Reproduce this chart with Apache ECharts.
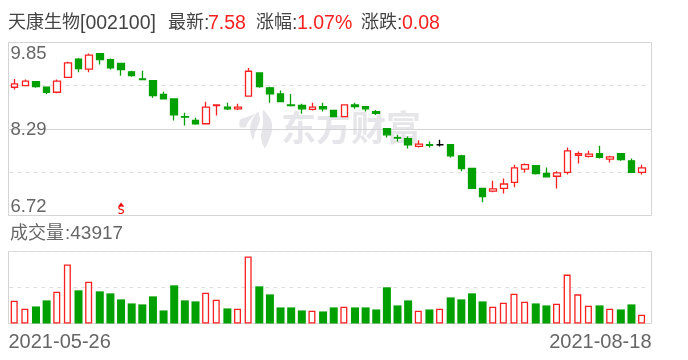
<!DOCTYPE html>
<html>
<head>
<meta charset="utf-8">
<style>html,body{margin:0;padding:0;background:#fff}#chart{width:688px;height:360px}</style>
<script src="https://cdn.jsdelivr.net/npm/echarts@6/dist/echarts.min.js"></script>
</head>
<body>
<div id="chart"></div>
<script>
var dates = [
  '2021-05-26','2021-05-27','2021-05-28','2021-05-31',
  '2021-06-01','2021-06-02','2021-06-03','2021-06-04','2021-06-07','2021-06-08','2021-06-09','2021-06-10','2021-06-11',
  '2021-06-15','2021-06-16','2021-06-17','2021-06-18','2021-06-21','2021-06-22','2021-06-23','2021-06-24','2021-06-25',
  '2021-06-28','2021-06-29','2021-06-30',
  '2021-07-01','2021-07-02','2021-07-05','2021-07-06','2021-07-07','2021-07-08','2021-07-09','2021-07-12','2021-07-13',
  '2021-07-14','2021-07-15','2021-07-16','2021-07-19','2021-07-20','2021-07-21','2021-07-22','2021-07-23','2021-07-26',
  '2021-07-27','2021-07-28','2021-07-29','2021-07-30',
  '2021-08-02','2021-08-03','2021-08-04','2021-08-05','2021-08-06','2021-08-09','2021-08-10','2021-08-11','2021-08-12',
  '2021-08-13','2021-08-16','2021-08-17','2021-08-18'
];
var opens = [9.04,9.07,9.14,9.04,8.95,9.22,9.55,9.37,9.65,9.54,9.47,9.32,9.19,9.16,8.91,8.83,8.51,8.44,8.38,8.71,
  8.68,8.65,8.88,9.30,9.03,8.92,8.72,8.71,8.64,8.69,8.62,8.51,8.72,8.69,8.60,8.29,8.13,8.11,7.97,8.00,
  8.00,8.00,7.80,7.57,7.21,7.16,7.21,7.32,7.56,7.62,7.48,7.43,7.50,7.81,7.79,7.84,7.74,7.84,7.71,7.50];
var closes = [9.10,9.15,9.05,8.95,9.15,9.48,9.38,9.62,9.54,9.39,9.36,9.25,9.18,8.89,8.83,8.54,8.50,8.38,8.68,8.72,
  8.65,8.68,9.33,9.05,8.92,8.78,8.71,8.65,8.68,8.65,8.51,8.72,8.69,8.65,8.57,8.18,8.12,8.00,8.01,7.99,
  8.00,7.80,7.57,7.21,7.06,7.20,7.29,7.58,7.64,7.48,7.42,7.49,7.89,7.84,7.83,7.77,7.78,7.73,7.50,7.58];
var lows = [9.00,9.07,9.03,8.92,8.93,9.22,9.31,9.31,9.45,9.36,9.25,9.23,9.18,8.85,8.83,8.44,8.35,8.36,8.38,8.53,
  8.63,8.63,8.88,9.03,8.76,8.78,8.69,8.56,8.62,8.60,8.51,8.51,8.65,8.60,8.54,8.13,8.06,7.93,7.95,7.95,
  7.97,7.77,7.52,7.21,6.96,7.14,7.12,7.23,7.50,7.46,7.41,7.21,7.46,7.66,7.77,7.75,7.68,7.71,7.50,7.46];
var highs = [9.19,9.18,9.15,9.04,9.18,9.50,9.57,9.65,9.65,9.56,9.47,9.34,9.34,9.16,8.96,8.83,8.58,8.49,8.78,8.72,
  8.76,8.74,9.39,9.30,9.05,8.98,8.92,8.74,8.76,8.76,8.63,8.72,8.76,8.69,8.63,8.29,8.18,8.15,8.08,8.06,
  8.09,8.00,7.82,7.57,7.21,7.35,7.39,7.64,7.66,7.62,7.59,7.52,7.95,7.88,7.89,7.98,7.80,7.84,7.75,7.64];
var volumes = [114900,74300,86100,116500,160500,297300,167200,211100,162100,152000,121600,101300,96300,136800,65900,192500,116500,111500,155400,119900,
  76000,74300,337800,187500,146900,81100,81100,65900,64200,60800,81100,84500,81100,81100,70900,182400,91200,116500,64200,70900,
  74300,131700,121600,152000,111500,84500,104700,150300,109800,101300,91200,99700,246600,146900,89500,91200,74300,70900,96300,43917];
var priceLabels = [6.72, 8.29, 9.85];
var priceLines = [7.5025, 9.0675];
var priceMiddle = [8.285];
var priceMin = 6.72, priceMax = 9.85;
var volMax = 363000;
var signalDate = '2021-06-09', signalPrice = 6.72;

var RED = '#fb2020', GREEN = '#00a000', TEXT = '#666', DARK = '#444', FRAME = '#d4d4d4', DASH = '#dedede', MARK = '#e6e6ea';
var FONT = '"Liberation Sans","Noto Sans CJK SC",sans-serif';

var kline = dates.map(function (d, i) {
  return [opens[i], closes[i], lows[i], highs[i]];
});
var volUp = volumes.map(function (v, i) { return closes[i] >= opens[i] ? v : '-'; });
var volDown = volumes.map(function (v, i) { return closes[i] >= opens[i] ? '-' : v; });

function label(text, left, top, color, size) {
  return { text: text, left: left, top: top, padding: 0,
    textStyle: { color: color, fontSize: size, fontWeight: 'normal', fontFamily: FONT } };
}
function petal(points) {
  return { type: 'polygon', z: -1, silent: true, x: 235, y: 105,
    shape: { points: points, smooth: 0.25 }, style: { fill: MARK } };
}

var chart = echarts.init(document.getElementById('chart'), null, { renderer: 'canvas' });
chart.setOption({
  animation: false,
  backgroundColor: '#fff',
  title: [
    label('天康生物', 8, 14, DARK, 18),
    label('[002100]', 80, 14, DARK, 19.5),
    label('最新', 168, 14, DARK, 18),
    label(':', 204, 14, DARK, 19.5),
    label('7.58', 208, 14, RED, 19.5),
    label('涨幅', 256, 14, DARK, 18),
    label(':', 292, 14, DARK, 19.5),
    label('1.07%', 297, 14, RED, 19.5),
    label('涨跌', 361, 14, DARK, 18),
    label(':', 397, 14, DARK, 19.5),
    label('0.08', 402, 14, RED, 19.5),
    label('成交量', 10, 225, TEXT, 18),
    label(':43917', 65, 224, TEXT, 19)
  ],
  graphic: [
    { type: 'text', z: -1, silent: true, x: 281, y: 110,
      style: { text: '东方财富', fill: MARK, font: 'bold 35px "Noto Sans CJK SC"' } },
    petal([[28, 5], [36, 15], [37, 26], [30, 43], [26, 33], [28, 18]]),
    petal([[23, 7], [25, 15], [20, 28], [18, 35], [15, 25], [17, 15]]),
    petal([[20, 9], [13, 17], [11, 22], [5, 22], [5, 15], [12, 12]])
  ],
  grid: [
    { left: 8.5, top: 42.5, width: 643, height: 173, show: true, borderColor: FRAME, borderWidth: 1, backgroundColor: 'transparent' },
    { left: 9.4, top: 42.5, width: 638, height: 173 },
    { left: 8.5, top: 251.5, width: 643, height: 72, show: true, borderColor: FRAME, borderWidth: 1, backgroundColor: 'transparent' },
    { left: 9.4, top: 251.5, width: 638, height: 72 },
    { left: 8.5, top: 44.5, width: 643, height: 172 }
  ],
  xAxis: [
    { gridIndex: 0, type: 'category', show: false, data: dates, boundaryGap: true },
    { gridIndex: 1, type: 'category', show: false, data: dates, boundaryGap: true },
    { gridIndex: 2, type: 'category', data: [dates[0], dates[dates.length - 1]], boundaryGap: false,
      axisLine: { show: false }, axisTick: { show: false },
      axisLabel: { interval: 0, margin: 9, color: TEXT, fontSize: 20, fontFamily: FONT, alignMinLabel: 'left', alignMaxLabel: 'right' } },
    { gridIndex: 3, type: 'category', show: false, data: dates, boundaryGap: true },
    { gridIndex: 4, type: 'category', show: false, data: dates, boundaryGap: true }
  ],
  yAxis: [
    { gridIndex: 0, type: 'value', min: priceMin, max: priceMax,
      axisLine: { show: false }, axisLabel: { show: false },
      axisTick: { show: false, customValues: priceMiddle },
      splitLine: { show: true, lineStyle: { color: FRAME, width: 1 } } },
    { gridIndex: 1, type: 'value', min: priceMin, max: priceMax,
      axisLine: { show: false }, axisLabel: { show: false },
      axisTick: { show: false, customValues: priceLines },
      splitLine: { show: true, lineStyle: { color: DASH, type: [4, 4], width: 1 } } },
    { gridIndex: 2, type: 'value', min: 0, max: volMax, interval: volMax,
      axisLine: { show: false }, axisTick: { show: false }, axisLabel: { show: false }, splitLine: { show: false } },
    { gridIndex: 3, type: 'value', min: 0, max: volMax, interval: volMax / 2,
      axisLine: { show: false }, axisTick: { show: false }, axisLabel: { show: false },
      splitLine: { show: true, lineStyle: { color: DASH, type: [4, 4], width: 1 } } },
    { gridIndex: 4, type: 'value', min: priceMin, max: priceMax,
      axisLine: { show: false }, axisTick: { show: false }, splitLine: { show: false },
      axisLabel: { inside: true, margin: 2, color: TEXT, fontSize: 18.5, fontFamily: FONT, customValues: priceLabels,
        formatter: function (v) { return v.toFixed(2); },
        verticalAlignMinLabel: 'bottom', verticalAlignMaxLabel: 'top' } }
  ],
  series: [
    {
      type: 'candlestick', xAxisIndex: 1, yAxisIndex: 1, data: kline, barWidth: 7,
      itemStyle: { color: '#fff', color0: GREEN, borderColor: RED, borderColor0: GREEN, borderColorDoji: '#000', borderWidth: 1.3 },
      markPoint: {
        silent: true, animation: false,
        data: [
          { coord: [signalDate, signalPrice], symbol: 'triangle', symbolSize: [6, 4], symbolOffset: [0, -11], itemStyle: { color: '#f00000' }, label: { show: false } },
          { coord: [signalDate, signalPrice], symbol: 'circle', symbolSize: 1, itemStyle: { color: 'transparent' },
            label: { show: true, formatter: 'S', color: '#f00000', fontSize: 12, fontFamily: '"DejaVu Sans Mono"', position: 'inside', offset: [0, -5] } }
        ]
      }
    },
    {
      type: 'bar', xAxisIndex: 3, yAxisIndex: 3, data: volUp, barWidth: 7, barGap: '-100%',
      itemStyle: { color: '#fff', borderColor: RED, borderWidth: 1.3 }
    },
    {
      type: 'bar', xAxisIndex: 3, yAxisIndex: 3, data: volDown, barWidth: 8, barGap: '-100%',
      itemStyle: { color: GREEN }
    }
  ]
});
</script>
</body>
</html>
